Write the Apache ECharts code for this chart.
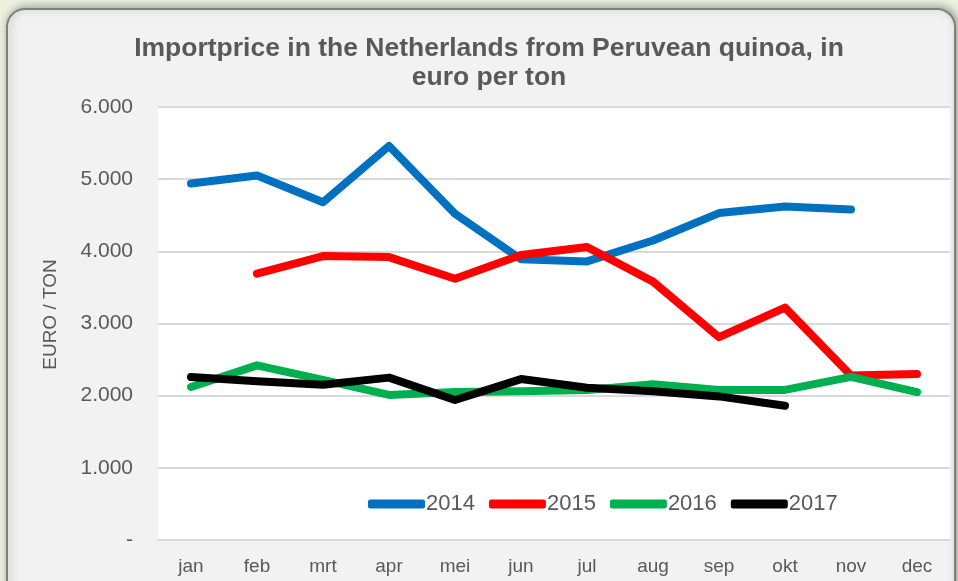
<!DOCTYPE html>
<html>
<head>
<meta charset="utf-8">
<script src="https://cdn.jsdelivr.net/npm/echarts@6/dist/echarts.min.js"></script>
<style>
html, body { margin: 0; padding: 0; background: #ebf1de; }
#chart { width: 958px; height: 581px; }
</style>
</head>
<body>
<div id="chart"></div>
<script>
var months = ['jan', 'feb', 'mrt', 'apr', 'mei', 'jun', 'jul', 'aug', 'sep', 'okt', 'nov', 'dec'];
var y2014 = [4940, 5050, 4680, 5460, 4520, 3890, 3860, 4150, 4530, 4620, 4580, null];
var y2015 = [null, 3690, 3935, 3920, 3620, 3950, 4060, 3580, 2810, 3220, 2280, 2300];
var y2016 = [2120, 2420, 2220, 2010, 2050, 2060, 2080, 2160, 2080, 2080, 2260, 2050];
var y2017 = [2260, 2200, 2150, 2250, 1940, 2230, 2110, 2060, 1990, 1860, null, null];
var yTicks = [0, 1000, 2000, 3000, 4000, 5000, 6000];

var dom = document.getElementById('chart');
var myChart = echarts.init(dom);

function lineSeries(name, color, data) {
    return {
        name: name,
        type: 'line',
        data: data,
        symbol: 'none',
        connectNulls: false,
        lineStyle: { color: color, width: 8, cap: 'round', join: 'round' },
        itemStyle: { color: color }
    };
}

var option = {
    backgroundColor: '#ebf1de',
    textStyle: { fontFamily: 'Liberation Sans, Arial, sans-serif' },
    graphic: [{
        type: 'rect',
        z: -10,
        shape: { x: 7, y: 9, width: 948, height: 620, r: 18 },
        style: {
            fill: '#f2f2f2',
            stroke: '#808080',
            lineWidth: 2,
            shadowBlur: 8,
            shadowColor: 'rgba(0,0,0,0.35)',
            shadowOffsetX: 2,
            shadowOffsetY: -1
        }
    }],
    title: {
        text: 'Importprice in the Netherlands from Peruvean quinoa, in\neuro per ton',
        left: 484,
        textAlign: 'center',
        top: 29,
        textStyle: {
            color: '#595959',
            fontSize: 26.5,
            fontWeight: 'bold',
            lineHeight: 29
        }
    },
    legend: {
        left: 363,
        top: 488,
        icon: 'roundRect',
        itemWidth: 57,
        itemHeight: 9,
        itemGap: 14,
        textStyle: { color: '#595959', fontSize: 22, padding: [0, 0, 0, -4] },
        data: ['2014', '2015', '2016', '2017']
    },
    grid: {
        left: 158,
        right: 8,
        top: 107,
        bottom: 41,
        show: true,
        backgroundColor: '#ffffff',
        borderWidth: 0
    },
    xAxis: {
        type: 'category',
        data: months,
        boundaryGap: true,
        axisTick: { show: false },
        axisLine: { show: true, lineStyle: { color: '#d9d9d9', width: 2 } },
        axisLabel: { color: '#595959', fontSize: 19, margin: 17 }
    },
    yAxis: {
        type: 'value',
        min: 0,
        max: 6000,
        interval: 1000,
        name: 'EURO / TON',
        nameLocation: 'middle',
        nameGap: 98,
        nameTextStyle: { color: '#595959', fontSize: 19, padding: [0, 0, 0, 18] },
        axisLine: { show: false },
        axisTick: { show: false },
        axisLabel: {
            color: '#595959',
            fontSize: 21,
            margin: 25,
            formatter: function (v) {
                if (yTicks.indexOf(v) < 0) return '';
                return v === 0 ? '-' : (v / 1000) + '.000';
            }
        },
        splitLine: { show: true, lineStyle: { color: '#d9d9d9', width: 2 } }
    },
    series: [
        lineSeries('2014', '#0070c0', y2014),
        lineSeries('2015', '#ff0000', y2015),
        lineSeries('2016', '#00b050', y2016),
        lineSeries('2017', '#000000', y2017)
    ]
};

if (option && typeof option === "object") {
    myChart.setOption(option, true);
}
</script>
</body>
</html>
